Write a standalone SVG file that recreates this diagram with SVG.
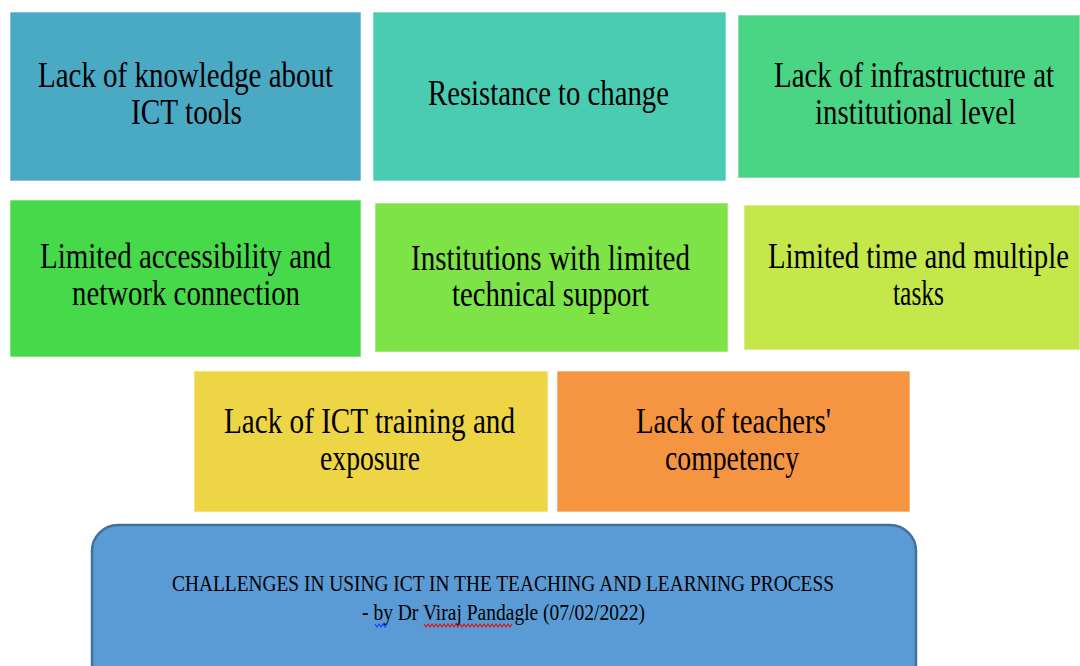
<svg xmlns="http://www.w3.org/2000/svg" width="1080" height="666" viewBox="0 0 1080 666">
<style>
.box{stroke:#ffffff;stroke-opacity:0.6;stroke-width:1}
.t{font-family:"Liberation Serif","Times New Roman",serif;font-size:35px;fill:#000}
.s{font-family:"Liberation Serif","Times New Roman",serif;font-size:23px;fill:#000}
</style>
<rect width="1080" height="666" fill="#ffffff"/>
<g id="n1"><rect class="box" x="10" y="12" width="351" height="169" fill="#4AAAC4"/>
<text class="t" x="38" y="87" textLength="295" lengthAdjust="spacingAndGlyphs">Lack of knowledge about</text>
<text class="t" x="131" y="124" textLength="111" lengthAdjust="spacingAndGlyphs">ICT tools</text></g>
<g id="n2"><rect class="box" x="373" y="12" width="353" height="169" fill="#4ACCB3"/>
<text class="t" x="428" y="105" textLength="241" lengthAdjust="spacingAndGlyphs">Resistance  to change</text></g>
<g id="n3"><rect class="box" x="738" y="15" width="342" height="163" fill="#4AD585"/>
<text class="t" x="774" y="87" textLength="280" lengthAdjust="spacingAndGlyphs">Lack of infrastructure at</text>
<text class="t" x="815" y="124" textLength="201" lengthAdjust="spacingAndGlyphs">institutional level</text></g>
<g id="n4"><rect class="box" x="10" y="200" width="351" height="157" fill="#46DA4A"/>
<text class="t" x="40" y="268" textLength="291" lengthAdjust="spacingAndGlyphs">Limited accessibility  and</text>
<text class="t" x="72" y="305" textLength="228" lengthAdjust="spacingAndGlyphs">network connection</text></g>
<g id="n5"><rect class="box" x="375" y="203" width="353" height="149" fill="#7DE346"/>
<text class="t" x="411" y="270" textLength="279" lengthAdjust="spacingAndGlyphs">Institutions with limited</text>
<text class="t" x="452" y="306" textLength="197" lengthAdjust="spacingAndGlyphs">technical support</text></g>
<g id="n6"><rect class="box" x="744" y="205" width="336" height="145" fill="#C4E84A"/>
<text class="t" x="768" y="268" textLength="301" lengthAdjust="spacingAndGlyphs">Limited time and multiple</text>
<text class="t" x="893" y="305" textLength="51" lengthAdjust="spacingAndGlyphs">tasks</text></g>
<g id="n7"><rect class="box" x="194" y="371" width="354" height="141" fill="#EDD545"/>
<text class="t" x="224" y="433" textLength="291" lengthAdjust="spacingAndGlyphs">Lack of ICT training and</text>
<text class="t" x="320" y="470" textLength="100" lengthAdjust="spacingAndGlyphs">exposure</text></g>
<g id="n8"><rect class="box" x="557" y="371" width="353" height="141" fill="#F59542"/>
<text class="t" x="636" y="433" textLength="195" lengthAdjust="spacingAndGlyphs">Lack of teachers'</text>
<text class="t" x="665" y="470" textLength="134" lengthAdjust="spacingAndGlyphs">competency</text></g>
<g id="title"><rect x="92" y="525" width="824" height="170" rx="26" ry="26" fill="#5B9BD5" stroke="#41719C" stroke-width="2.5"/>
<text class="s" x="172" y="591" textLength="662" lengthAdjust="spacingAndGlyphs">CHALLENGES IN USING ICT IN THE TEACHING AND LEARNING PROCESS</text>
<text class="s" x="362" y="620" textLength="283" lengthAdjust="spacingAndGlyphs">- by Dr Viraj Pandagle (07/02/2022)</text>
<path d="M375 624 l2 3 l2 -3 l2 3 l2 -3 l2 3 l2 -3" fill="none" stroke="#1a3cff" stroke-width="1.2"/>
<path d="M424 624 l2 3 l2 -3 l2 3 l2 -3 l2 3 l2 -3 l2 3 l2 -3 l2 3 l2 -3 l2 3 l2 -3 l2 3 l2 -3 l2 3 l2 -3 l2 3 l2 -3 l2 3 l2 -3 l2 3 l2 -3 l2 3 l2 -3 l2 3 l2 -3 l2 3 l2 -3 l2 3 l2 -3 l2 3 l2 -3 l2 3 l2 -3 l2 3 l2 -3 l2 3 l2 -3 l2 3 l2 -3 l2 3 l2 -3 l2 3 l2 -3" fill="none" stroke="#e01010" stroke-width="1.2"/>
</g>
</svg>
